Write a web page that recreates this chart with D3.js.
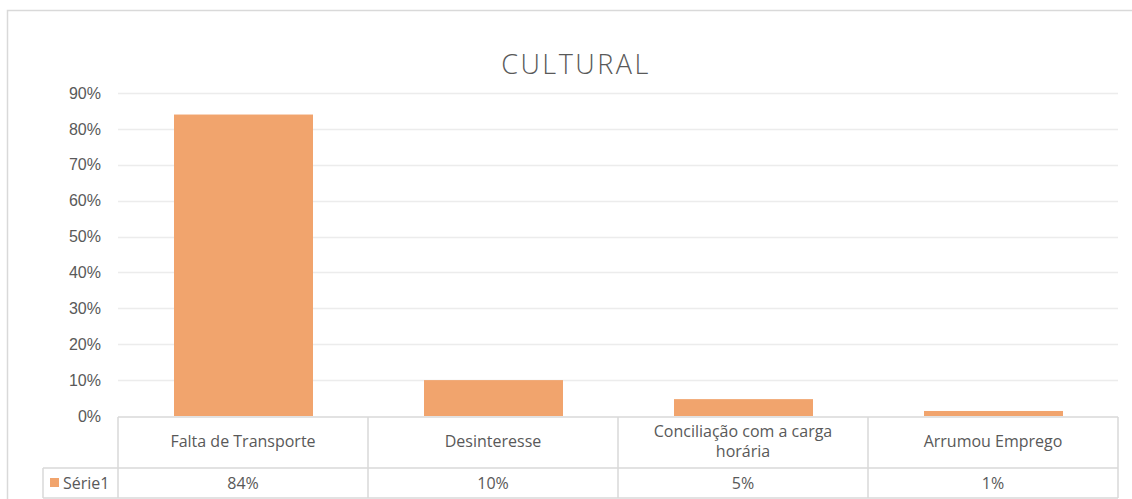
<!DOCTYPE html>
<html>
<head>
<meta charset="utf-8">
<script src="https://cdn.jsdelivr.net/npm/d3@7"></script>
<style>
  body { margin: 0; background: #fff; }
  svg { display: block; font-family: "Open Sans", "Liberation Sans", sans-serif; }
  .tick text { fill: #595959; font-size: 16px; }
</style>
</head>
<body>
<div id="chart"></div>
<script>
(function () {
  const categories = ['Falta de Transporte', 'Desinteresse', 'Conciliação com a carga horária', 'Arrumou Emprego'];
  const values = [0.84, 0.10, 0.047, 0.014];
  const valueLabels = ['84%', '10%', '5%', '1%'];
  const yTicks = [0, 0.1, 0.2, 0.3, 0.4, 0.5, 0.6, 0.7, 0.8, 0.9];
  const seriesName = 'Série1';
  const title = 'CULTURAL';

  let width = 1132;
  let height = 499;
  let plot = { left: 118, right: 1118, top: 93, bottom: 416 };
  let legendLeft = 43;
  let headerBottom = 467;
  let tableBottom = 498;
  let barColor = '#f1a46d';
  let gridColor = '#ececec';
  let borderColor = '#d9d9d9';
  let textColor = '#595959';

  let svg = d3
    .select('#chart')
    .append('svg')
    .attr('width', width)
    .attr('height', height);

  // chart frame, right and bottom edges fall outside the picture
  svg
    .append('rect')
    .attr('x', 7.5)
    .attr('y', 10.5)
    .attr('width', width + 20)
    .attr('height', height + 20)
    .attr('fill', '#fff')
    .attr('stroke', '#d9d9d9')
    .attr('stroke-width', 1.5);

  svg
    .append('text')
    .attr('x', 576)
    .attr('y', 74)
    .attr('text-anchor', 'middle')
    .attr('fill', textColor)
    .attr('font-size', 27)
    .attr('font-weight', 300)
    .attr('letter-spacing', 2.5)
    .text(title);

  let x = d3
    .scaleBand()
    .domain(categories)
    .range([plot.left, plot.right]);

  let y = d3
    .scaleLinear()
    .domain([0, 0.9])
    .range([plot.bottom, plot.top]);

  // gridlines
  svg
    .append('g')
    .selectAll('line')
    .data(yTicks.filter((d) => d > 0))
    .enter()
    .append('line')
    .attr('x1', plot.left)
    .attr('x2', plot.right)
    .attr('y1', (d) => Math.round(y(d)) + 0.5)
    .attr('y2', (d) => Math.round(y(d)) + 0.5)
    .attr('stroke', gridColor)
    .attr('stroke-width', 1.5);

  let yAxis = svg
    .append('g')
    .attr('transform', `translate(${plot.left}, 0)`)
    .call(
      d3.axisLeft(y)
        .tickValues(yTicks)
        .tickFormat(d3.format('.0%'))
        .tickSize(0)
        .tickPadding(17)
    );
  yAxis.select('.domain').remove();
  yAxis.selectAll('text').attr('dy', '0.32em');

  // bars
  let barW = 139;
  svg
    .append('g')
    .selectAll('rect')
    .data(categories)
    .enter()
    .append('rect')
    .attr('x', (d) => x(d) + x.bandwidth() / 2 - barW / 2 + 0.5)
    .attr('y', (d, i) => y(values[i]))
    .attr('width', barW)
    .attr('height', (d, i) => y(0) - y(values[i]))
    .attr('fill', barColor);

  // data table
  let table = svg.append('g').attr('stroke', borderColor).attr('stroke-width', 1.5).attr('fill', 'none');
  table.append('line').attr('x1', plot.left).attr('x2', plot.right).attr('y1', plot.bottom + 1).attr('y2', plot.bottom + 1);
  table.append('line').attr('x1', legendLeft).attr('x2', plot.right).attr('y1', headerBottom + 1).attr('y2', headerBottom + 1);
  table.append('line').attr('x1', legendLeft).attr('x2', plot.right).attr('y1', tableBottom).attr('y2', tableBottom);
  table.append('line').attr('x1', legendLeft).attr('x2', legendLeft).attr('y1', headerBottom + 1).attr('y2', tableBottom);
  table
    .selectAll('.vline')
    .data(categories.concat(['end']))
    .enter()
    .append('line')
    .attr('class', 'vline')
    .attr('x1', (d, i) => (i < categories.length ? x(d) : plot.right))
    .attr('x2', (d, i) => (i < categories.length ? x(d) : plot.right))
    .attr('y1', plot.bottom + 1)
    .attr('y2', tableBottom);

  // header labels, long ones wrap onto two lines
  let headers = svg
    .append('g')
    .selectAll('text')
    .data(categories)
    .enter()
    .append('text')
    .attr('text-anchor', 'middle')
    .attr('fill', textColor)
    .attr('font-size', 16);

  headers.each(function (d) {
    let t = d3.select(this);
    let cx = x(d) + x.bandwidth() / 2;
    let words = d.split(' ');
    let lines = d.length > 25 ? [words.slice(0, 4).join(' '), words.slice(4).join(' ')] : [d];
    let startY = lines.length === 1 ? 447 : 437;
    lines.forEach((ln, k) => {
      t.append('tspan').attr('x', cx).attr('y', startY + k * 20).text(ln);
    });
  });

  // values row
  svg
    .append('g')
    .selectAll('text')
    .data(categories)
    .enter()
    .append('text')
    .attr('x', (d) => x(d) + x.bandwidth() / 2)
    .attr('y', 489)
    .attr('text-anchor', 'middle')
    .attr('fill', textColor)
    .attr('font-size', 16)
    .text((d, i) => valueLabels[i]);

  // legend key
  svg
    .append('rect')
    .attr('x', 50)
    .attr('y', 478)
    .attr('width', 9)
    .attr('height', 9)
    .attr('fill', barColor);
  svg
    .append('text')
    .attr('x', 63)
    .attr('y', 489)
    .attr('fill', textColor)
    .attr('font-size', 16)
    .text(seriesName);
})();
</script>
</body>
</html>
